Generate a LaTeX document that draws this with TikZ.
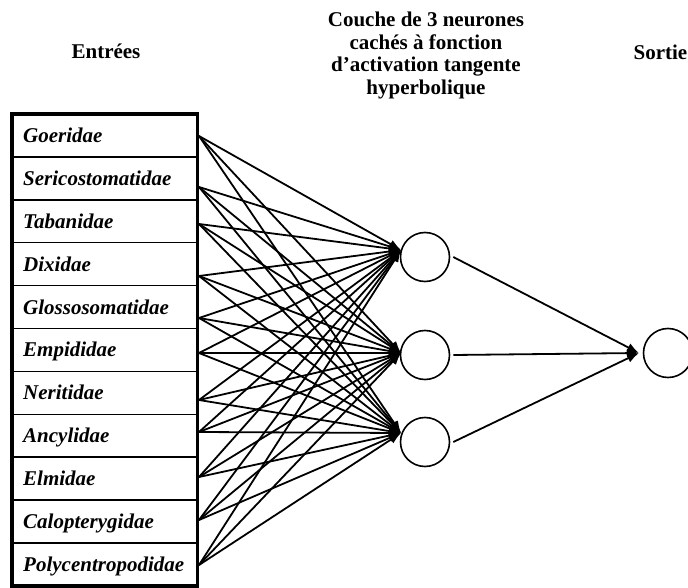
\documentclass[tikz,border=0pt]{standalone}
\usepackage{fontspec}
\setmainfont{Liberation Serif}
\usetikzlibrary{arrows.meta}
\begin{document}
\begin{tikzpicture}[x=1pt,y=-1pt,
  lbl/.style={font=\fontsize{21}{22.6}\selectfont\bfseries, inner sep=0pt},
  row/.style={font=\fontsize{21}{22}\selectfont\bfseries\itshape, inner sep=0pt, anchor=base west},
  neuron/.style={circle, draw, line width=1.6pt, minimum size=49pt, inner sep=0pt},
  conn/.style={line width=1.8pt, -{Latex[length=12pt,width=9pt]}},
  sep/.style={line width=1.5pt},
]
\useasboundingbox (0,0) rectangle (688,588);
% headings
\node[lbl, anchor=base] (hin) at (106,59) {Entrées};
\node[lbl, anchor=north, align=center] (hhid) at (426,12) {Couche de 3 neurones\\cachés à fonction\\d’activation tangente\\hyperbolique};
\node[lbl, anchor=base east] (hout) at (687.5,60) {Sortie};
% input table
\foreach \i in {1,...,10}{
  \draw[sep] (12,{114+42.9*\i}) -- (197.5,{114+42.9*\i});
}
\draw[line width=3.5pt] (12,114) rectangle (197.5,586);
\foreach \i/\name in {1/Goeridae,2/Sericostomatidae,3/Tabanidae,4/Dixidae,5/Glossosomatidae,6/Empididae,7/Neritidae,8/Ancylidae,9/Elmidae,10/Calopterygidae,11/Polycentropodidae}{
  \node[row] (r\i) at (23,{114+42.9*(\i-0.5)+7}) {\name};
}
% start points of connectors
\foreach \i/\y in {1/136,2/187,3/224,4/276,5/318,6/353,7/400,8/432,9/477,10/520,11/565}{
  \coordinate (s\i) at (199,\y);
}
% hidden neurons
\node[neuron] (h1) at (425,257) {};
\node[neuron] (h2) at (425,355) {};
\node[neuron] (h3) at (425,442) {};
\coordinate (t1) at (401,250);
\coordinate (t2) at (401,353);
\coordinate (t3) at (401,433);
% output neuron
\node[neuron] (o) at (668,353) {};
\coordinate (to) at (639,353);
% connections input -> hidden
\foreach \i in {1,...,11}{
  \foreach \j in {1,2,3}{
    \draw[conn] (s\i) -- (t\j);
  }
}
% hidden -> output
\draw[conn] ([xshift=3pt]h1.east) -- (to);
\draw[conn] ([xshift=3pt]h2.east) -- (to);
\draw[conn] ([xshift=3pt]h3.east) -- (to);
\end{tikzpicture}
\end{document}
